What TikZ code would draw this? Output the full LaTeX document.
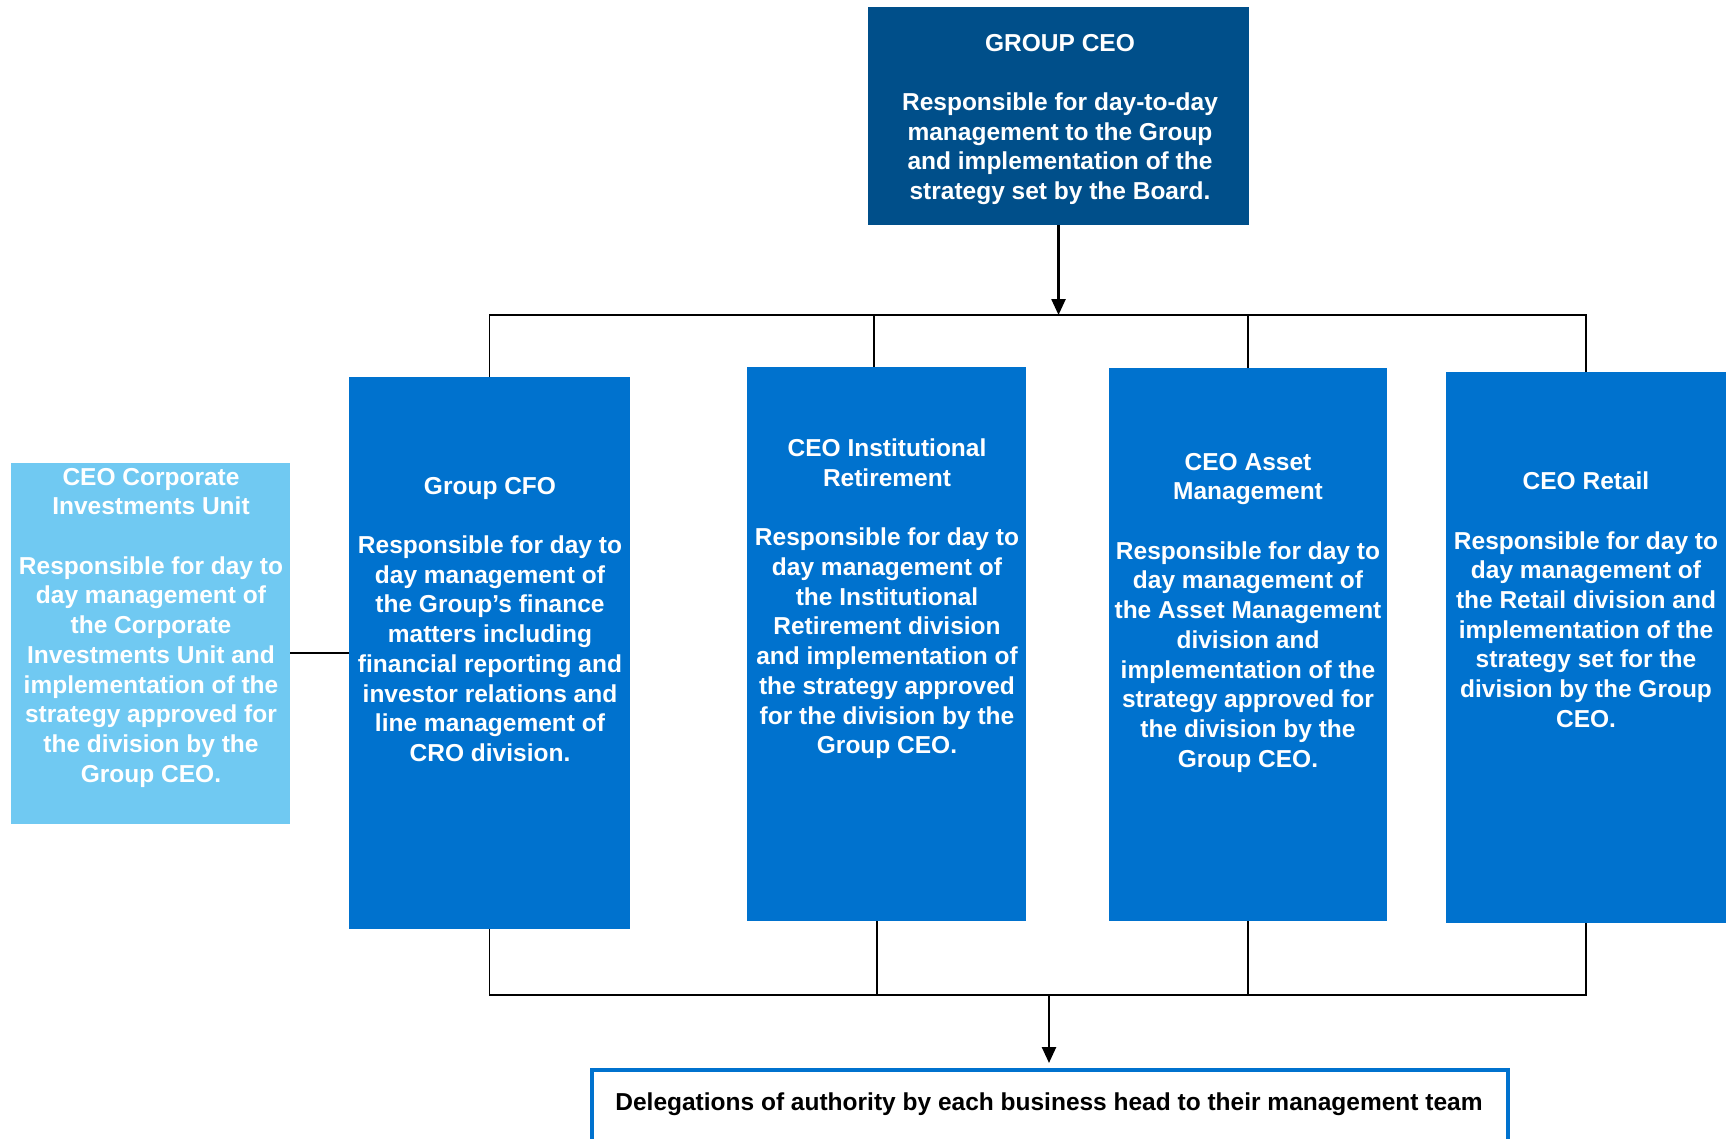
\documentclass[tikz,border=0pt]{standalone}
\usepackage{fontspec}
\setmainfont{Liberation Sans}
\usetikzlibrary{arrows.meta,calc}
\definecolor{ceoblue}{RGB}{0,79,138}
\definecolor{midblue}{RGB}{0,114,206}
\definecolor{lightblue}{RGB}{112,201,242}
\begin{document}
\begin{tikzpicture}[x=0.5pt,y=-0.5pt,
  box/.style={rectangle,inner sep=0pt,outer sep=0pt,draw=none},
  darkbox/.style={box,fill=ceoblue},
  divbox/.style={box,fill=midblue},
  unitbox/.style={box,fill=lightblue},
  boxtext/.style={inner sep=0pt,outer sep=0pt,align=center,text=white,anchor=north,
    font=\fontsize{12.25pt}{14.85pt}\selectfont\bfseries},
  conn/.style={draw=black,line width=0.75pt},
  arr/.style={draw=black,line width=1.25pt,-{Triangle[length=8pt,width=7pt]}}]
\useasboundingbox (0,0) rectangle (1728,1139);
% boxes
\node[darkbox,minimum width=190.5pt,minimum height=109pt] (gceo) at (1058.5,116) {};
\node[unitbox,minimum width=139.5pt,minimum height=180.5pt] (corp) at (150.5,643.5) {};
\node[divbox,minimum width=140.5pt,minimum height=276pt] (cfo) at (489.5,653) {};
\node[divbox,minimum width=139.5pt,minimum height=277pt] (inst) at (886.5,644) {};
\node[divbox,minimum width=139pt,minimum height=276.5pt] (asset) at (1248,644.5) {};
\node[divbox,minimum width=140pt,minimum height=275.5pt] (retail) at (1586,647.5) {};
\node[box,overlay,draw=midblue,line width=1.75pt,minimum width=458pt,minimum height=50pt,anchor=north] (deleg) at (1050,1070) {};
% texts
\node[boxtext] (gceot) at (1060,34) {GROUP CEO\\[14.85pt]Responsible for day-to-day\\management to the Group\\and implementation of the\\strategy set by the Board.};
\node[boxtext] (corpt) at (151,468) {CEO Corporate\\Investments Unit\\[14.85pt]Responsible for day to\\day management of\\the Corporate\\Investments Unit and\\implementation of the\\strategy approved for\\the division by the\\Group CEO.};
\node[boxtext] (cfot) at (490,477) {Group CFO\\[14.85pt]Responsible for day to\\day management of\\the Group’s finance\\matters including\\financial reporting and\\investor relations and\\line management of\\CRO division.};
\node[boxtext] (instt) at (887,439) {CEO Institutional\\Retirement\\[14.85pt]Responsible for day to\\day management of\\the Institutional\\Retirement division\\and implementation of\\the strategy approved\\for the division by the\\Group CEO.};
\node[boxtext] (assett) at (1248,453) {CEO Asset\\Management\\[14.85pt]Responsible for day to\\day management of\\the Asset Management\\division and\\implementation of the\\strategy approved for\\the division by the\\Group CEO.};
\node[boxtext] (retailt) at (1586,472) {CEO Retail\\[14.85pt]Responsible for day to\\day management of\\the Retail division and\\implementation of the\\strategy set for the\\division by the Group\\CEO.};
\node[inner sep=0pt,anchor=base,font=\fontsize{12.25pt}{14.85pt}\selectfont\bfseries] (delegt) at (1049,1110) {Delegations of authority by each business head to their management team};
% connectors
\coordinate (tbus) at (1058.5,315);
\coordinate (bbus) at (1049,995);
\coordinate (instT) at ($(inst.north)+(-12.5,0)$);
\coordinate (instB) at ($(inst.south)+(-9.5,0)$);
\draw[arr] (gceo.south) -- (tbus);
\draw[conn] (cfo.north) -- (cfo.north |- tbus) -- (retail.north |- tbus) -- (retail.north);
\draw[conn] (instT) -- (instT |- tbus);
\draw[conn] (asset.north) -- (asset.north |- tbus);
\draw[conn] (cfo.south) -- (cfo.south |- bbus) -- (retail.south |- bbus) -- (retail.south);
\draw[conn] (instB) -- (instB |- bbus);
\draw[conn] (asset.south) -- (asset.south |- bbus);
\draw[conn] (cfo.west) -- (cfo.west -| corp.east);
\draw[arr,shorten >=3.5pt] (bbus) -- (bbus |- deleg.north);
\end{tikzpicture}
\end{document}
